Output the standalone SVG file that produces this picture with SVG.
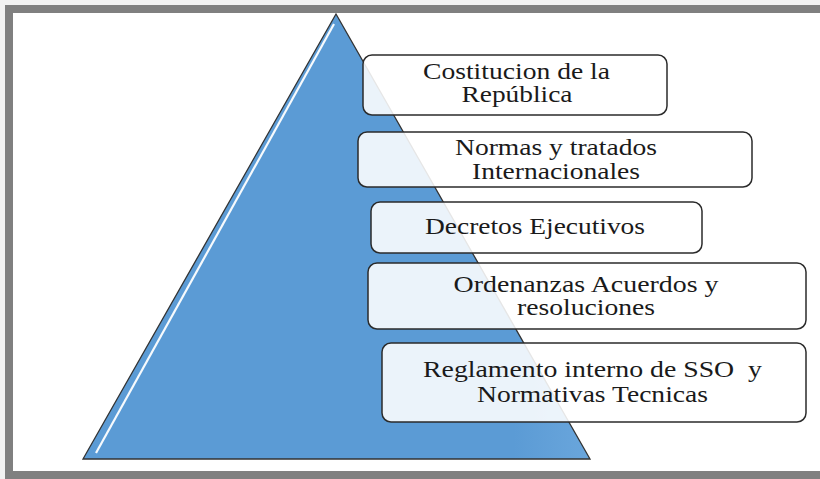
<svg xmlns="http://www.w3.org/2000/svg" width="820" height="479" viewBox="0 0 820 479">
  <style>
    .box { fill: #ffffff; fill-opacity: 0.88; stroke: #2b2b2b; stroke-width: 1.5; }
    .lbl { font-family: "Liberation Serif", "Times New Roman", serif; font-size: 23px; fill: #1a1a1a; text-anchor: middle; white-space: pre; }
  </style>
  <defs>
    <linearGradient id="tri" x1="0" y1="0" x2="1" y2="0">
      <stop offset="0" stop-color="#5b9bd5"/>
      <stop offset="0.85" stop-color="#5b9bd5"/>
      <stop offset="1" stop-color="#6aa6dc"/>
    </linearGradient>
  </defs>
  <rect x="0" y="0" width="820" height="479" fill="#f2f2f2"/>
  <rect x="9" y="9" width="830" height="466" fill="#ffffff" stroke="#808080" stroke-width="8"/>

  <g id="pyramid">
    <polygon points="336,14 83,459 590,459" fill="url(#tri)" stroke="#333333" stroke-width="1.3"/>
    <line x1="334" y1="24" x2="96" y2="453" stroke="#ffffff" stroke-width="2.2" stroke-opacity="0.95"/>
  </g>

  <g id="n1">
    <rect class="box" x="363" y="55" width="304" height="60" rx="9"/>
    <text class="lbl" x="516.5" y="79" textLength="187" lengthAdjust="spacingAndGlyphs">Costitucion de la</text>
    <text class="lbl" x="517" y="102" textLength="111" lengthAdjust="spacingAndGlyphs">República</text>
  </g>
  <g id="n2">
    <rect class="box" x="358" y="132" width="394" height="55" rx="9"/>
    <text class="lbl" x="556" y="155" textLength="202" lengthAdjust="spacingAndGlyphs">Normas y tratados</text>
    <text class="lbl" x="556" y="179" textLength="168" lengthAdjust="spacingAndGlyphs">Internacionales</text>
  </g>
  <g id="n3">
    <rect class="box" x="371" y="202" width="331" height="51" rx="9"/>
    <text class="lbl" x="535" y="234" textLength="220" lengthAdjust="spacingAndGlyphs">Decretos Ejecutivos</text>
  </g>
  <g id="n4">
    <rect class="box" x="368" y="263" width="438" height="66" rx="9"/>
    <text class="lbl" x="586" y="292" textLength="265" lengthAdjust="spacingAndGlyphs">Ordenanzas Acuerdos y</text>
    <text class="lbl" x="586" y="315" textLength="138" lengthAdjust="spacingAndGlyphs">resoluciones</text>
  </g>
  <g id="n5">
    <rect class="box" x="382" y="343" width="424" height="79" rx="9"/>
    <text class="lbl" x="592.5" y="377" textLength="339" lengthAdjust="spacingAndGlyphs">Reglamento interno de SSO  y</text>
    <text class="lbl" x="592.5" y="402" textLength="231" lengthAdjust="spacingAndGlyphs">Normativas Tecnicas</text>
  </g>
  <g id="connectors"/>
</svg>
